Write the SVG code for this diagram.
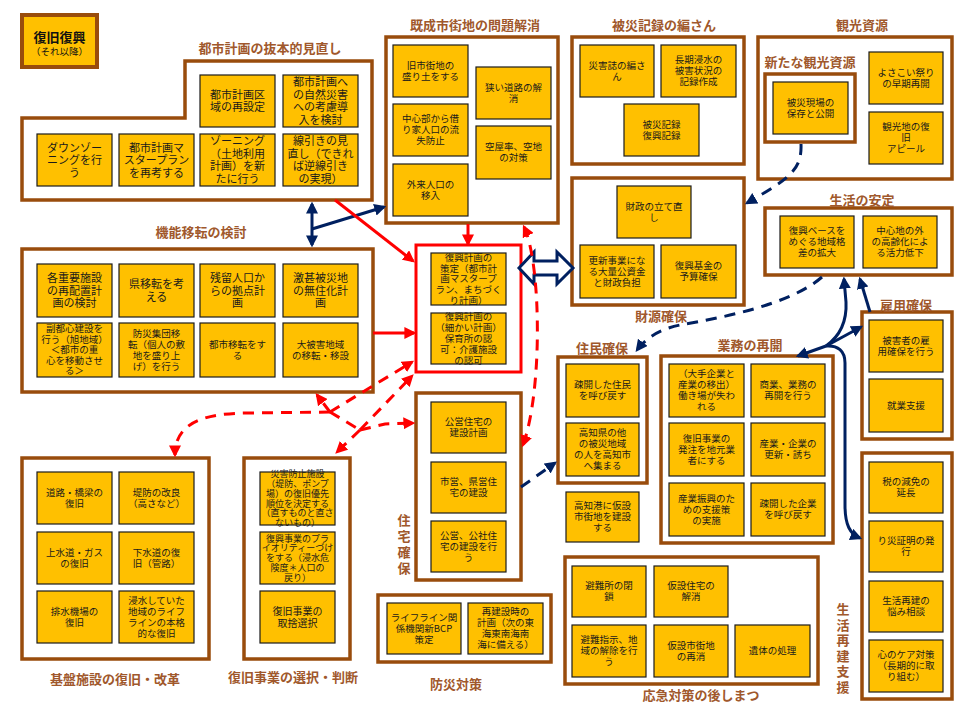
<svg xmlns="http://www.w3.org/2000/svg" width="969" height="708" viewBox="0 0 969 708">
  <style>
    .grp { fill: #ffffff; stroke: #994C0C; stroke-width: 3.5; }
    .redgrp { fill: #ffffff; stroke: #FF0000; stroke-width: 3; }
    .nd { fill: #FFC000; stroke: #1c1c1c; stroke-width: 1.2; }
    text { font-family: "Noto Sans CJK JP", "Noto Sans CJK SC", sans-serif; fill: #1a1a1a; text-anchor: middle; }
    .t11 { font-size: 11px; }
    .t95 { font-size: 9.5px; }
    .t9 { font-size: 9px; }
    .t10 { font-size: 10px; }
    .ttl { font-size: 13px; font-weight: bold; fill: #A0582C; }
    .hd { font-size: 13px; font-weight: bold; fill: #111111; }
    .hs { font-size: 9.5px; fill: #111111; }
    .navy { fill: none; stroke: #002060; stroke-width: 3; }
    .navyd { fill: none; stroke: #002060; stroke-width: 3; stroke-dasharray: 11 8; }
    .red { fill: none; stroke: #FF0000; stroke-width: 3; }
    .redd { fill: none; stroke: #FF0000; stroke-width: 3; stroke-dasharray: 11 8; }
  </style>
  <defs>
    <marker id="ahN" viewBox="0 0 10 10" refX="8" refY="5" markerWidth="12" markerHeight="12" markerUnits="userSpaceOnUse" orient="auto-start-reverse">
      <path d="M0,0 L10,5 L0,10 z" fill="#002060"/>
    </marker>
    <marker id="ahR" viewBox="0 0 10 10" refX="8" refY="5" markerWidth="12" markerHeight="12" markerUnits="userSpaceOnUse" orient="auto-start-reverse">
      <path d="M0,0 L10,5 L0,10 z" fill="#FF0000"/>
    </marker>
  </defs>

  <rect width="969" height="708" fill="#ffffff"/>

  <!-- heading -->
  <g id="heading">
    <rect x="22" y="15" width="75" height="52" fill="#FFC000" stroke="#994C0C" stroke-width="4"/>
    <text class="hd" x="59.5" y="41.5">復旧復興</text>
    <text class="hs" x="59.5" y="55">（それ以降）</text>
  </g>

  <!-- group frames and titles -->
  <g id="g-urban">
    <polygon class="grp" points="185,61 372,61 372,200 22,200 22,118 185,118"/>
    <text class="ttl" x="270" y="53">都市計画の抜本的見直し</text>
  </g>
  <g id="g-relocation">
    <rect class="grp" x="22" y="249" width="351" height="143"/>
    <text class="ttl" x="201" y="237">機能移転の検討</text>
  </g>
  <g id="g-existing">
    <rect class="grp" x="386" y="37" width="172" height="186"/>
    <text class="ttl" x="475" y="30">既成市街地の問題解消</text>
  </g>
  <g id="g-records">
    <rect class="grp" x="572" y="37" width="172" height="127"/>
    <text class="ttl" x="664" y="30">被災記録の編さん</text>
  </g>
  <g id="g-finance">
    <rect class="grp" x="572" y="178" width="172" height="127"/>
    <text class="ttl" x="661" y="321">財源確保</text>
  </g>
  <g id="g-tourism">
    <rect class="grp" x="758" y="37" width="194" height="142"/>
    <text class="ttl" x="862" y="30">観光資源</text>
    <rect class="grp" x="765" y="74" width="90" height="68"/>
    <text class="ttl" x="810" y="67">新たな観光資源</text>
  </g>
  <g id="g-stability">
    <rect class="grp" x="765" y="208" width="187" height="67"/>
    <text class="ttl" x="862" y="205">生活の安定</text>
  </g>
  <g id="g-employment">
    <rect class="grp" x="862" y="312" width="90" height="127"/>
    <text class="ttl" x="906" y="310">雇用確保</text>
  </g>
  <g id="g-life">
    <rect class="grp" x="862" y="453" width="90" height="246"/>
    <text class="ttl" x="843" y="614">生<tspan x="843" dy="15.6">活</tspan><tspan x="843" dy="15.6">再</tspan><tspan x="843" dy="15.6">建</tspan><tspan x="843" dy="15.6">支</tspan><tspan x="843" dy="15.6">援</tspan></text>
  </g>
  <g id="g-business">
    <rect class="grp" x="661" y="356" width="172" height="187"/>
    <text class="ttl" x="750" y="350">業務の再開</text>
  </g>
  <g id="g-residents">
    <rect class="grp" x="558" y="357" width="89" height="126"/>
    <text class="ttl" x="602" y="353">住民確保</text>
  </g>
  <g id="g-emergency">
    <rect class="grp" x="565" y="557" width="253" height="127"/>
    <text class="ttl" x="701" y="700">応急対策の後しまつ</text>
  </g>
  <g id="g-plan">
    <rect class="redgrp" x="416" y="245" width="105" height="127"/>
  </g>
  <g id="g-housing">
    <rect class="grp" x="416" y="393" width="105" height="187"/>
    <text class="ttl" x="404" y="525">住<tspan x="404" dy="16">宅</tspan><tspan x="404" dy="16">確</tspan><tspan x="404" dy="16">保</tspan></text>
  </g>
  <g id="g-prevention">
    <rect class="grp" x="378" y="595" width="173" height="67"/>
    <text class="ttl" x="456" y="689">防災対策</text>
  </g>
  <g id="g-infra">
    <rect class="grp" x="22" y="458" width="187" height="201"/>
    <text class="ttl" x="115" y="684">基盤施設の復旧・改革</text>
  </g>
  <g id="g-selection">
    <rect class="grp" x="244" y="458" width="106" height="201"/>
    <text class="ttl" x="293" y="682">復旧事業の選択・判断</text>
  </g>

  <!-- urban planning nodes -->
  <g id="n-area"><rect class="nd" x="200" y="75" width="75" height="52"/>
    <text class="t11" x="237.5" y="98.75">都市計画区<tspan x="237.5" dy="12.5">域の再設定</tspan></text></g>
  <g id="n-hazard"><rect class="nd" x="283" y="75" width="75" height="52"/>
    <text class="t11" x="320.5" y="86.25">都市計画へ<tspan x="320.5" dy="12.5">の自然災害</tspan><tspan x="320.5" dy="12.5">への考慮導</tspan><tspan x="320.5" dy="12.5">入を検討</tspan></text></g>
  <g id="n-downzone"><rect class="nd" x="37" y="134" width="75" height="52"/>
    <text class="t11" x="74.5" y="151.5">ダウンゾー<tspan x="74.5" dy="12.5">ニングを行</tspan><tspan x="74.5" dy="12.5">う</tspan></text></g>
  <g id="n-master"><rect class="nd" x="119" y="134" width="75" height="52"/>
    <text class="t11" x="156.5" y="151.5">都市計画マ<tspan x="156.5" dy="12.5">スタープラン</tspan><tspan x="156.5" dy="12.5">を再考する</tspan></text></g>
  <g id="n-zoning"><rect class="nd" x="200" y="134" width="75" height="52"/>
    <text class="t11" x="237.5" y="145.25">ゾーニング<tspan x="237.5" dy="12.5">（土地利用</tspan><tspan x="237.5" dy="12.5">計画）を新</tspan><tspan x="237.5" dy="12.5">たに行う</tspan></text></g>
  <g id="n-senbiki"><rect class="nd" x="283" y="134" width="75" height="52"/>
    <text class="t11" x="320.5" y="145.25">線引きの見<tspan x="320.5" dy="12.5">直し（できれ</tspan><tspan x="320.5" dy="12.5">ば逆線引き</tspan><tspan x="320.5" dy="12.5">の実現）</tspan></text></g>

  <!-- relocation nodes -->
  <g id="n-facility"><rect class="nd" x="37" y="264" width="75" height="53"/>
    <text class="t11" x="74.5" y="282">各重要施設<tspan x="74.5" dy="12.5">の再配置計</tspan><tspan x="74.5" dy="12.5">画の検討</tspan></text></g>
  <g id="n-pref"><rect class="nd" x="119" y="264" width="75" height="53"/>
    <text class="t11" x="156.5" y="288.25">県移転を考<tspan x="156.5" dy="12.5">える</tspan></text></g>
  <g id="n-remain"><rect class="nd" x="200" y="264" width="75" height="53"/>
    <text class="t11" x="237.5" y="282">残留人口か<tspan x="237.5" dy="12.5">らの拠点計</tspan><tspan x="237.5" dy="12.5">画</tspan></text></g>
  <g id="n-nores"><rect class="nd" x="283" y="264" width="75" height="53"/>
    <text class="t11" x="320.5" y="282">激甚被災地<tspan x="320.5" dy="12.5">の無住化計</tspan><tspan x="320.5" dy="12.5">画</tspan></text></g>
  <g id="n-subcenter"><rect class="nd" x="37" y="323" width="75" height="54"/>
    <text class="t95" x="74.5" y="332.4">副都心建設を<tspan x="74.5" dy="10.5">行う（旭地域）</tspan><tspan x="74.5" dy="10.5">＜都市の重</tspan><tspan x="74.5" dy="10.5">心を移動させ</tspan><tspan x="74.5" dy="10.5">る＞</tspan></text></g>
  <g id="n-group"><rect class="nd" x="119" y="323" width="75" height="54"/>
    <text class="t95" x="156.5" y="336.9">防災集団移<tspan x="156.5" dy="11">転（個人の敷</tspan><tspan x="156.5" dy="11">地を盛り上</tspan><tspan x="156.5" dy="11">げ）を行う</tspan></text></g>
  <g id="n-city"><rect class="nd" x="200" y="323" width="75" height="54"/>
    <text class="t95" x="237.5" y="347.9">都市移転をす<tspan x="237.5" dy="11">る</tspan></text></g>
  <g id="n-move"><rect class="nd" x="283" y="323" width="75" height="54"/>
    <text class="t95" x="320.5" y="347.9">大被害地域<tspan x="320.5" dy="11">の移転・移設</tspan></text></g>

  <!-- existing urban area nodes -->
  <g id="n-fill"><rect class="nd" x="393" y="45" width="75" height="52"/>
    <text class="t95" x="430.5" y="68.9">旧市街地の<tspan x="430.5" dy="11">盛り土をする</tspan></text></g>
  <g id="n-outflow"><rect class="nd" x="393" y="104" width="75" height="52"/>
    <text class="t95" x="430.5" y="122.4">中心部から借<tspan x="430.5" dy="11">り家人口の流</tspan><tspan x="430.5" dy="11">失防止</tspan></text></g>
  <g id="n-inflow"><rect class="nd" x="393" y="164" width="75" height="52"/>
    <text class="t95" x="430.5" y="187.9">外来人口の<tspan x="430.5" dy="11">移入</tspan></text></g>
  <g id="n-road"><rect class="nd" x="476" y="67" width="75" height="52"/>
    <text class="t95" x="513.5" y="90.9">狭い道路の解<tspan x="513.5" dy="11">消</tspan></text></g>
  <g id="n-vacant"><rect class="nd" x="476" y="126" width="75" height="53"/>
    <text class="t95" x="513.5" y="150.4">空屋率、空地<tspan x="513.5" dy="11">の対策</tspan></text></g>

  <!-- records nodes -->
  <g id="n-chron"><rect class="nd" x="580" y="45" width="74" height="52"/>
    <text class="t95" x="617" y="68.9">災害誌の編さ<tspan x="617" dy="11">ん</tspan></text></g>
  <g id="n-flood"><rect class="nd" x="661" y="45" width="75" height="52"/>
    <text class="t95" x="698.5" y="63.4">長期浸水の<tspan x="698.5" dy="11">被害状況の</tspan><tspan x="698.5" dy="11">記録作成</tspan></text></g>
  <g id="n-record"><rect class="nd" x="624" y="104" width="75" height="52"/>
    <text class="t95" x="661.5" y="127.9">被災記録<tspan x="661.5" dy="11">復興記録</tspan></text></g>

  <!-- finance nodes -->
  <g id="n-fiscal"><rect class="nd" x="617" y="186" width="74" height="52"/>
    <text class="t95" x="654" y="209.9">財政の立て直<tspan x="654" dy="11">し</tspan></text></g>
  <g id="n-burden"><rect class="nd" x="580" y="245" width="74" height="53"/>
    <text class="t95" x="617" y="263.9">更新事業にな<tspan x="617" dy="11">る大量公資金</tspan><tspan x="617" dy="11">と財政負担</tspan></text></g>
  <g id="n-fund"><rect class="nd" x="661" y="245" width="75" height="53"/>
    <text class="t95" x="698.5" y="269.4">復興基金の<tspan x="698.5" dy="11">予算確保</tspan></text></g>

  <!-- tourism nodes -->
  <g id="n-site"><rect class="nd" x="773" y="82" width="75" height="52"/>
    <text class="t95" x="810.5" y="105.9">被災現場の<tspan x="810.5" dy="11">保存と公開</tspan></text></g>
  <g id="n-festival"><rect class="nd" x="869" y="52" width="74" height="52"/>
    <text class="t95" x="906" y="75.9">よさこい祭り<tspan x="906" dy="11">の早期再開</tspan></text></g>
  <g id="n-appeal"><rect class="nd" x="869" y="112" width="74" height="52"/>
    <text class="t95" x="906" y="130.4">観光地の復<tspan x="906" dy="11">旧</tspan><tspan x="906" dy="11">アピール</tspan></text></g>

  <!-- stability nodes -->
  <g id="n-gap"><rect class="nd" x="780" y="216" width="74" height="52"/>
    <text class="t95" x="817" y="234.4">復興ベースを<tspan x="817" dy="11">めぐる地域格</tspan><tspan x="817" dy="11">差の拡大</tspan></text></g>
  <g id="n-aging"><rect class="nd" x="863" y="216" width="74" height="52"/>
    <text class="t95" x="900" y="234.4">中心地の外<tspan x="900" dy="11">の高齢化によ</tspan><tspan x="900" dy="11">る活力低下</tspan></text></g>

  <!-- employment nodes -->
  <g id="n-hire"><rect class="nd" x="869" y="320" width="74" height="52"/>
    <text class="t95" x="906" y="343.9">被害者の雇<tspan x="906" dy="11">用確保を行う</tspan></text></g>
  <g id="n-work"><rect class="nd" x="869" y="379" width="74" height="53"/>
    <text class="t95" x="906" y="408.9">就業支援</text></g>

  <!-- life rebuilding nodes -->
  <g id="n-tax"><rect class="nd" x="869" y="462" width="74" height="51"/>
    <text class="t95" x="906" y="485.4">税の減免の<tspan x="906" dy="11">延長</tspan></text></g>
  <g id="n-cert"><rect class="nd" x="869" y="521" width="74" height="51"/>
    <text class="t95" x="906" y="544.4">り災証明の発<tspan x="906" dy="11">行</tspan></text></g>
  <g id="n-consult"><rect class="nd" x="869" y="581" width="74" height="51"/>
    <text class="t95" x="906" y="604.4">生活再建の<tspan x="906" dy="11">悩み相談</tspan></text></g>
  <g id="n-care"><rect class="nd" x="869" y="640" width="74" height="52"/>
    <text class="t95" x="906" y="658.4">心のケア対策<tspan x="906" dy="11">（長期的に取</tspan><tspan x="906" dy="11">り組む）</tspan></text></g>

  <!-- business nodes -->
  <g id="n-jobs"><rect class="nd" x="669" y="364" width="75" height="53"/>
    <text class="t95" x="706.5" y="377.4">（大手企業と<tspan x="706.5" dy="11">産業の移出）</tspan><tspan x="706.5" dy="11">働き場が失わ</tspan><tspan x="706.5" dy="11">れる</tspan></text></g>
  <g id="n-commerce"><rect class="nd" x="751" y="364" width="74" height="53"/>
    <text class="t95" x="788" y="388.4">商業、業務の<tspan x="788" dy="11">再開を行う</tspan></text></g>
  <g id="n-local"><rect class="nd" x="669" y="423" width="75" height="53"/>
    <text class="t95" x="706.5" y="441.9">復旧事業の<tspan x="706.5" dy="11">発注を地元業</tspan><tspan x="706.5" dy="11">者にする</tspan></text></g>
  <g id="n-renew"><rect class="nd" x="751" y="423" width="74" height="53"/>
    <text class="t95" x="788" y="447.4">産業・企業の<tspan x="788" dy="11">更新・誘ち</tspan></text></g>
  <g id="n-promote"><rect class="nd" x="669" y="483" width="75" height="53"/>
    <text class="t95" x="706.5" y="501.9">産業振興のた<tspan x="706.5" dy="11">めの支援策</tspan><tspan x="706.5" dy="11">の実施</tspan></text></g>
  <g id="n-return-co"><rect class="nd" x="751" y="483" width="74" height="53"/>
    <text class="t95" x="788" y="507.4">疎開した企業<tspan x="788" dy="11">を呼び戻す</tspan></text></g>

  <!-- residents nodes -->
  <g id="n-return"><rect class="nd" x="566" y="364" width="73" height="53"/>
    <text class="t95" x="602.5" y="388.4">疎開した住民<tspan x="602.5" dy="11">を呼び戻す</tspan></text></g>
  <g id="n-gather"><rect class="nd" x="566" y="423" width="73" height="53"/>
    <text class="t95" x="602.5" y="436.4">高知県の他<tspan x="602.5" dy="11">の被災地域</tspan><tspan x="602.5" dy="11">の人を高知市</tspan><tspan x="602.5" dy="11">へ集まる</tspan></text></g>
  <g id="n-port"><rect class="nd" x="566" y="492" width="73" height="50"/>
    <text class="t95" x="602.5" y="509.4">高知港に仮設<tspan x="602.5" dy="11">市街地を建設</tspan><tspan x="602.5" dy="11">する</tspan></text></g>

  <!-- emergency aftermath nodes -->
  <g id="n-shelter"><rect class="nd" x="572" y="566" width="74" height="51"/>
    <text class="t95" x="609" y="589.4">避難所の閉<tspan x="609" dy="11">鎖</tspan></text></g>
  <g id="n-temp"><rect class="nd" x="654" y="566" width="74" height="51"/>
    <text class="t95" x="691" y="589.4">仮設住宅の<tspan x="691" dy="11">解消</tspan></text></g>
  <g id="n-order"><rect class="nd" x="572" y="625" width="74" height="52"/>
    <text class="t95" x="609" y="643.4">避難指示、地<tspan x="609" dy="11">域の解除を行</tspan><tspan x="609" dy="11">う</tspan></text></g>
  <g id="n-tempcity"><rect class="nd" x="654" y="625" width="74" height="52"/>
    <text class="t95" x="691" y="648.9">仮設市街地<tspan x="691" dy="11">の再消</tspan></text></g>
  <g id="n-remains"><rect class="nd" x="735" y="625" width="75" height="52"/>
    <text class="t95" x="772.5" y="654.4">遺体の処理</text></g>

  <!-- reconstruction plan nodes -->
  <g id="n-plan1"><rect class="nd" x="431" y="253" width="75" height="52"/>
    <text class="t95" x="468.5" y="260.8">復興計画の<tspan x="468.5" dy="10.8">策定（都市計</tspan><tspan x="468.5" dy="10.8">画マスタープ</tspan><tspan x="468.5" dy="10.8">ラン、まちづく</tspan><tspan x="468.5" dy="10.8">り計画）</tspan></text></g>
  <g id="n-plan2"><rect class="nd" x="431" y="313" width="75" height="51"/>
    <text class="t95" x="468.5" y="320.3">復興計画の<tspan x="468.5" dy="10.8">（細かい計画）</tspan><tspan x="468.5" dy="10.8">保育所の認</tspan><tspan x="468.5" dy="10.8">可：介護施設</tspan><tspan x="468.5" dy="10.8">の認可</tspan></text></g>

  <!-- housing nodes -->
  <g id="n-public"><rect class="nd" x="431" y="402" width="75" height="51"/>
    <text class="t95" x="468.5" y="425.4">公営住宅の<tspan x="468.5" dy="11">建設計画</tspan></text></g>
  <g id="n-cityhouse"><rect class="nd" x="431" y="462" width="75" height="51"/>
    <text class="t95" x="468.5" y="485.4">市営、県営住<tspan x="468.5" dy="11">宅の建設</tspan></text></g>
  <g id="n-corp"><rect class="nd" x="431" y="521" width="75" height="51"/>
    <text class="t95" x="468.5" y="538.9">公営、公社住<tspan x="468.5" dy="11">宅の建設を行</tspan><tspan x="468.5" dy="11">う</tspan></text></g>

  <!-- prevention nodes -->
  <g id="n-bcp"><rect class="nd" x="387" y="603" width="74" height="51"/>
    <text class="t95" x="424" y="620.9">ライフライン関<tspan x="424" dy="11">係機関新BCP</tspan><tspan x="424" dy="11">策定</tspan></text></g>
  <g id="n-rebuild"><rect class="nd" x="468" y="603" width="75" height="51"/>
    <text class="t95" x="505.5" y="615.4">再建設時の<tspan x="505.5" dy="11">計画（次の東</tspan><tspan x="505.5" dy="11">海東南海南</tspan><tspan x="505.5" dy="11">海に備える）</tspan></text></g>

  <!-- infrastructure nodes -->
  <g id="n-roads"><rect class="nd" x="37" y="472" width="75" height="52"/>
    <text class="t95" x="74.5" y="495.9">道路・橋梁の<tspan x="74.5" dy="11">復旧</tspan></text></g>
  <g id="n-levee"><rect class="nd" x="119" y="472" width="75" height="52"/>
    <text class="t95" x="156.5" y="495.9">堤防の改良<tspan x="156.5" dy="11">（高さなど）</tspan></text></g>
  <g id="n-water"><rect class="nd" x="37" y="532" width="75" height="52"/>
    <text class="t95" x="74.5" y="555.9">上水道・ガス<tspan x="74.5" dy="11">の復旧</tspan></text></g>
  <g id="n-sewer"><rect class="nd" x="119" y="532" width="75" height="52"/>
    <text class="t95" x="156.5" y="555.9">下水道の復<tspan x="156.5" dy="11">旧（管路）</tspan></text></g>
  <g id="n-pump"><rect class="nd" x="37" y="591" width="75" height="52"/>
    <text class="t95" x="74.5" y="614.9">排水機場の<tspan x="74.5" dy="11">復旧</tspan></text></g>
  <g id="n-lifeline"><rect class="nd" x="119" y="591" width="75" height="52"/>
    <text class="t95" x="156.5" y="603.9">浸水していた<tspan x="156.5" dy="11">地域のライフ</tspan><tspan x="156.5" dy="11">ラインの本格</tspan><tspan x="156.5" dy="11">的な復旧</tspan></text></g>

  <!-- selection nodes -->
  <g id="n-priority"><rect class="nd" x="260" y="472" width="75" height="53"/>
    <text class="t9" x="297.5" y="477.2">災害防止施設<tspan x="297.5" dy="9.8">（堤防、ポンプ</tspan><tspan x="297.5" dy="9.8">場）の復旧優先</tspan><tspan x="297.5" dy="9.8">順位を決定する</tspan><tspan x="297.5" dy="9.8">（直すものと直さ</tspan><tspan x="297.5" dy="9.8">ないもの）</tspan></text></g>
  <g id="n-rank"><rect class="nd" x="260" y="532" width="75" height="52"/>
    <text class="t9" x="297.5" y="541.6">復興事業のプラ<tspan x="297.5" dy="9.8">イオリティーづけ</tspan><tspan x="297.5" dy="9.8">をする（浸水危</tspan><tspan x="297.5" dy="9.8">険度＊人口の</tspan><tspan x="297.5" dy="9.8">戻り）</tspan></text></g>
  <g id="n-choose"><rect class="nd" x="260" y="591" width="75" height="52"/>
    <text class="t10" x="297.5" y="614.6">復旧事業の<tspan x="297.5" dy="12">取捨選択</tspan></text></g>

  <!-- connectors -->
  <g id="connectors">
    <!-- navy solid -->
    <path class="navy" d="M312,204 L312,245" marker-start="url(#ahN)" marker-end="url(#ahN)"/>
    <path class="navy" d="M312,229 L384,207" marker-end="url(#ahN)"/>
    <polygon points="519,268 534,252 534,261 557,261 557,252 573,268 557,284 557,275 534,275 534,284" fill="#ffffff" stroke="#002060" stroke-width="3" stroke-linejoin="miter"/>
    <path class="navy" d="M826,346 C838,345 845,351 845,363 L845,505 C845,525 850,534 860,538" marker-end="url(#ahN)"/>
    <path class="navy" d="M826,346 L798,356" marker-end="url(#ahN)"/>
    <path class="navy" d="M826,346 L861,327" marker-end="url(#ahN)"/>
    <path class="navy" d="M826,346 C840,336 847,322 846,302 L844,279" marker-end="url(#ahN)"/>
    <path class="navy" d="M870,312 L860,279" marker-end="url(#ahN)"/>
    <!-- navy dashed -->
    <path class="navyd" d="M801,144 C802,170 790,178 747,203" marker-end="url(#ahN)"/>
    <path class="navyd" d="M822,277 C790,305 720,318 680,325 C660,329 646,338 637,350" marker-end="url(#ahN)"/>
    <path class="navyd" d="M521,487 L555,463" marker-end="url(#ahN)"/>
    <!-- red solid -->
    <path class="red" d="M335,200 L413,261" marker-end="url(#ahR)"/>
    <path class="red" d="M468,224 L468,244" marker-end="url(#ahR)"/>
    <path class="red" d="M373,333 L414,333" marker-end="url(#ahR)"/>
    <!-- red dashed -->
    <path class="redd" d="M524,227 C541,262 543,390 523,445" marker-start="url(#ahR)" marker-end="url(#ahR)"/>
    <path class="redd" d="M330,412 L412,362" marker-end="url(#ahR)"/>
    <path class="redd" d="M330,412 L317,395" marker-end="url(#ahR)"/>
    <path class="redd" d="M330,412 L250,413 C205,413 175,422 175,455" marker-end="url(#ahR)"/>
    <path class="redd" d="M330,412 L360,430"/>
    <path class="redd" d="M360,430 L412,376" marker-end="url(#ahR)"/>
    <path class="redd" d="M360,430 L385,424 L413,423" marker-end="url(#ahR)"/>
    <path class="redd" d="M360,430 L337,452" marker-end="url(#ahR)"/>
  </g>
</svg>
